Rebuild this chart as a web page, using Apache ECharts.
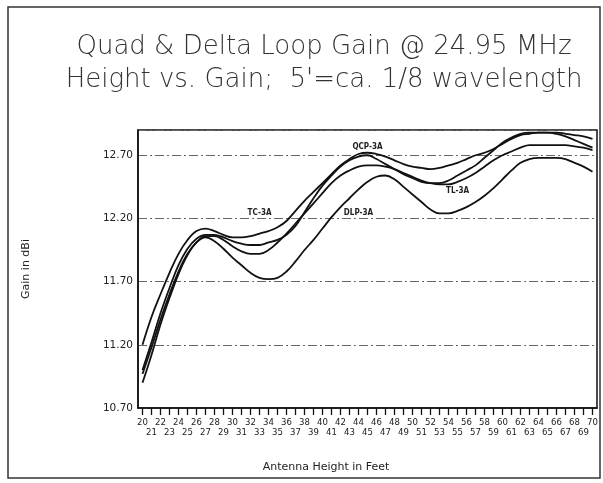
<!DOCTYPE html>
<html>
<head>
<meta charset="utf-8">
<script src="https://cdn.jsdelivr.net/npm/echarts@6/dist/echarts.min.js"></script>
<style>
html,body{margin:0;padding:0;background:#fff;}
#chart{width:603px;height:483px;}
</style>
</head>
<body>
<div id="chart"></div>
<script>
// Antenna heights in feet (categories)
const heights = [20,21,22,23,24,25,26,27,28,29,30,31,32,33,34,35,36,37,38,39,40,41,42,43,44,45,
                 46,47,48,49,50,51,52,53,54,55,56,57,58,59,60,61,62,63,64,65,66,67,68,69,70];

// Gain in dBi
const qcp3a = [11.20,11.42,11.60,11.77,11.92,12.03,12.10,12.12,12.10,12.07,12.05,12.05,12.06,12.08,12.10,12.13,12.18,12.26,12.34,12.41,12.48,12.55,12.62,12.67,12.71,12.72,
               12.71,12.69,12.66,12.63,12.61,12.60,12.59,12.60,12.62,12.64,12.67,12.70,12.72,12.75,12.79,12.83,12.86,12.87,12.88,12.88,12.88,12.87,12.86,12.85,12.83];
const tc3a  = [11.00,11.22,11.45,11.65,11.83,11.96,12.04,12.07,12.07,12.05,12.02,12.00,11.99,11.99,12.01,12.03,12.07,12.14,12.25,12.36,12.46,12.54,12.61,12.66,12.69,12.70,
               12.67,12.63,12.59,12.55,12.52,12.49,12.48,12.48,12.50,12.54,12.58,12.62,12.68,12.74,12.80,12.84,12.87,12.88,12.88,12.88,12.87,12.85,12.82,12.79,12.76];
const tl3a  = [10.97,11.18,11.40,11.60,11.78,11.92,12.01,12.06,12.06,12.03,11.98,11.94,11.92,11.92,11.95,12.01,12.08,12.16,12.24,12.32,12.40,12.48,12.54,12.58,12.61,12.62,
               12.62,12.61,12.59,12.56,12.53,12.50,12.48,12.47,12.47,12.49,12.52,12.56,12.61,12.66,12.70,12.73,12.76,12.78,12.78,12.78,12.78,12.78,12.77,12.76,12.74];
const dlp3a = [10.90,11.12,11.36,11.57,11.76,11.91,12.01,12.05,12.02,11.96,11.89,11.83,11.77,11.73,11.72,11.73,11.78,11.86,11.95,12.03,12.12,12.21,12.29,12.36,12.43,12.49,
               12.53,12.54,12.51,12.45,12.39,12.33,12.27,12.24,12.24,12.26,12.29,12.33,12.38,12.44,12.51,12.58,12.64,12.67,12.68,12.68,12.68,12.67,12.64,12.61,12.57];

const seriesNames = ['QCP-3A','TC-3A','TL-3A','DLP-3A'];
const seriesValues = [qcp3a, tc3a, tl3a, dlp3a];
// label anchor [category index, value] for each curve's text label
const labelAnchors = [[25.0,12.77],[13.3,12.24],[35.4,12.42],[24.4,12.245]];

const yTickLabels = ['10.70','11.20','11.70','12.20','12.70'];

const chart = echarts.init(document.getElementById('chart'), null, {renderer:'canvas'});
const smallFont = "'DejaVu Sans Condensed','Liberation Sans Narrow','Liberation Sans',sans-serif";
const wideFont = "'DejaVu Sans',sans-serif";

const series = seriesValues.map((vals, i) => ({
  name: seriesNames[i],
  type: 'line',
  data: vals,
  smooth: 0.4,
  symbol: 'none',
  lineStyle: {color:'#111', width:1.8},
  z: 5,
  markPoint: {
    symbol: 'circle',
    symbolSize: 0,
    data: [{coord: labelAnchors[i], value: seriesNames[i]}],
    label: {
      show: true, position: 'inside', formatter: seriesNames[i],
      color: '#222', fontSize: 8, fontWeight: 'bold', fontFamily: smallFont
    }
  }
}));

chart.setOption({
  animation: false,
  backgroundColor: '#fff',
  title: [
    {
      text: 'Quad & Delta Loop Gain @ 24.95 MHz',
      subtext: "Height vs. Gain;  5'=ca. 1/8 wavelength",
      left: 319, top: 29, textAlign: 'center', itemGap: 7,
      textStyle: {fontFamily: wideFont, fontWeight:'lighter', fontSize:26, color:'#333'},
      subtextStyle: {fontFamily: wideFont, fontWeight:'lighter', fontSize:26, color:'#333'}
    },
    {
      text: 'Antenna Height in Feet',
      left: 321, top: 457, textAlign: 'center',
      textStyle: {fontFamily: wideFont, fontWeight:'normal', fontSize:11, color:'#222'}
    }
  ],
  graphic: [{
    type: 'rect', shape: {x:8, y:7, width:592, height:471},
    style: {fill:'none', stroke:'#333', lineWidth:1.5}, z: 0
  }],
  grid: {left:138, right:6, top:130, bottom:75, show:true, borderColor:'#111', borderWidth:1.5, backgroundColor:'transparent'},
  xAxis: {
    type: 'category',
    data: heights.map(String),
    boundaryGap: true,
    axisLine: {lineStyle:{color:'#111', width:1.5}},
    axisTick: {show:true, alignWithLabel:true, interval:0, length:7, lineStyle:{color:'#111', width:1.3}},
    axisLabel: {
      interval: 0, margin: 10, fontSize: 9.5, lineHeight: 10, color:'#222', fontFamily: smallFont,
      formatter: (v) => (Number(v) % 2 === 1 ? '\n' + v : v)
    },
    splitLine: {show:false}
  },
  yAxis: {
    type: 'value',
    min: 10.7, max: 12.9, interval: 0.5,
    name: 'Gain in dBi', nameLocation: 'middle', nameGap: 106, nameRotate: 90,
    nameTextStyle: {fontSize:11, color:'#222', fontFamily: wideFont},
    axisLine: {show:true, lineStyle:{color:'#111', width:1.5}},
    axisTick: {show:false},
    axisLabel: {
      showMaxLabel: false, margin: 5, fontSize: 10.5, color:'#222', fontFamily: wideFont,
      formatter: (v) => {
        const s = v.toFixed(2);
        return yTickLabels.indexOf(s) >= 0 ? s : '';
      }
    },
    splitLine: {show:true, lineStyle:{color:'#666', width:1, type:[9,3,2,3]}}
  },
  series: series
});
</script>
</body>
</html>
